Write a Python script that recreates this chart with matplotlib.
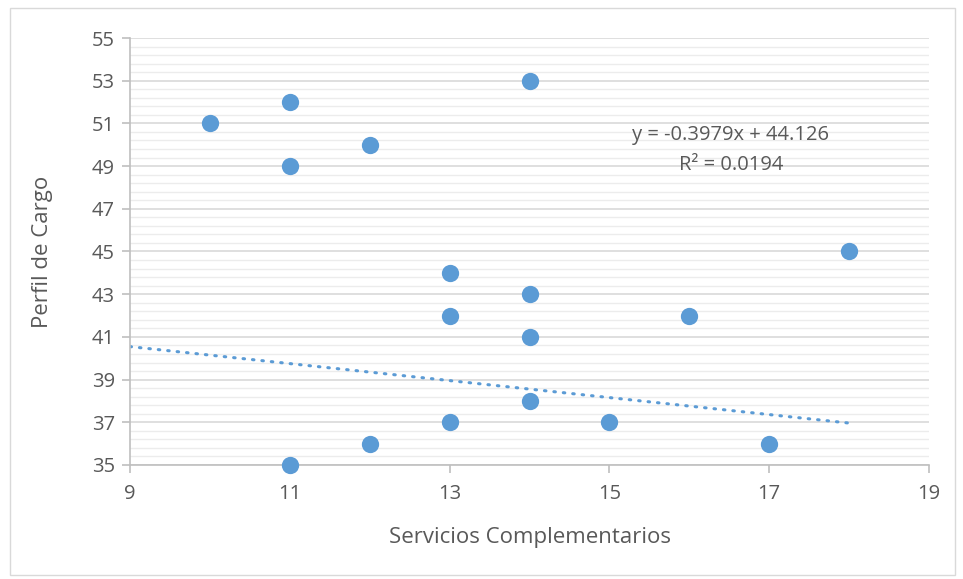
import numpy as np
import matplotlib.pyplot as plt
from matplotlib.patches import Rectangle
from matplotlib.ticker import FixedLocator

# data
servicios = [10, 11, 11, 11, 12, 12, 13, 13, 13, 14, 14, 14, 14, 15, 16, 17, 18]
perfil = [51, 52, 49, 35, 50, 36, 44, 42, 37, 53, 43, 41, 38, 37, 42, 36, 45]

# trendline as printed on the chart
slope = -0.3979
intercept = 44.126
r2 = 0.0194

x_ticks = [9, 11, 13, 15, 17, 19]
y_ticks = [35, 37, 39, 41, 43, 45, 47, 49, 51, 53, 55]

blue = '#5B9BD5'
gray_text = '#595959'

plt.rcParams['font.family'] = ['Open Sans', 'DejaVu Sans']

fig = plt.figure(figsize=(9.63, 5.79), dpi=100)
ax = fig.add_axes([130 / 963, 1 - 465 / 579, 799 / 963, 427 / 579])

# outer chart border
fig.patches.append(Rectangle((10 / 963, 4 / 579), 945 / 963, 567 / 579,
                             transform=fig.transFigure, fill=False,
                             edgecolor='#d9d9d9', linewidth=1))

ax.scatter(servicios, perfil, s=155, color=blue, zorder=3, linewidths=0,
           clip_on=False)

tx = np.array([9, 18])
ax.plot(tx, slope * tx + intercept, color=blue, linewidth=2.2,
        linestyle=(0, (0.5, 2.6)), dash_capstyle='round', zorder=2)

ax.text(16.52, 50.45, f"y = {slope}x + {intercept}", ha='center', va='center',
        fontsize=14.5, color=gray_text)
ax.text(16.52, 49.05, f"R² = {r2}", ha='center', va='center',
        fontsize=14.5, color=gray_text)

ax.set_xlim(9, 19)
ax.set_ylim(35, 55)
ax.set_xticks(x_ticks)
ax.set_yticks(y_ticks)
ax.yaxis.set_minor_locator(FixedLocator(np.arange(35, 55.01, 0.4)))

ax.grid(axis='y', which='major', color='#d9d9d9', linewidth=1.2, zorder=0)
ax.grid(axis='y', which='minor', color='#ececec', linewidth=1.0, zorder=0)
ax.set_axisbelow(True)

for side in ['top', 'right']:
    ax.spines[side].set_visible(False)
for side in ['left', 'bottom']:
    ax.spines[side].set_color('#bfbfbf')
    ax.spines[side].set_linewidth(1.2)

ax.tick_params(axis='both', which='major', length=6, color='#bfbfbf',
               labelsize=14.5, labelcolor=gray_text, width=1.2)
ax.tick_params(axis='x', which='major', pad=8)
ax.tick_params(axis='y', which='major', pad=5)
ax.tick_params(axis='y', which='minor', length=0)

ax.set_xlabel("Servicios Complementarios", fontsize=16, color=gray_text, labelpad=16)
ax.set_ylabel("Perfil de Cargo", fontsize=16, color=gray_text, labelpad=28)

fig.savefig('out.png', dpi=100)
